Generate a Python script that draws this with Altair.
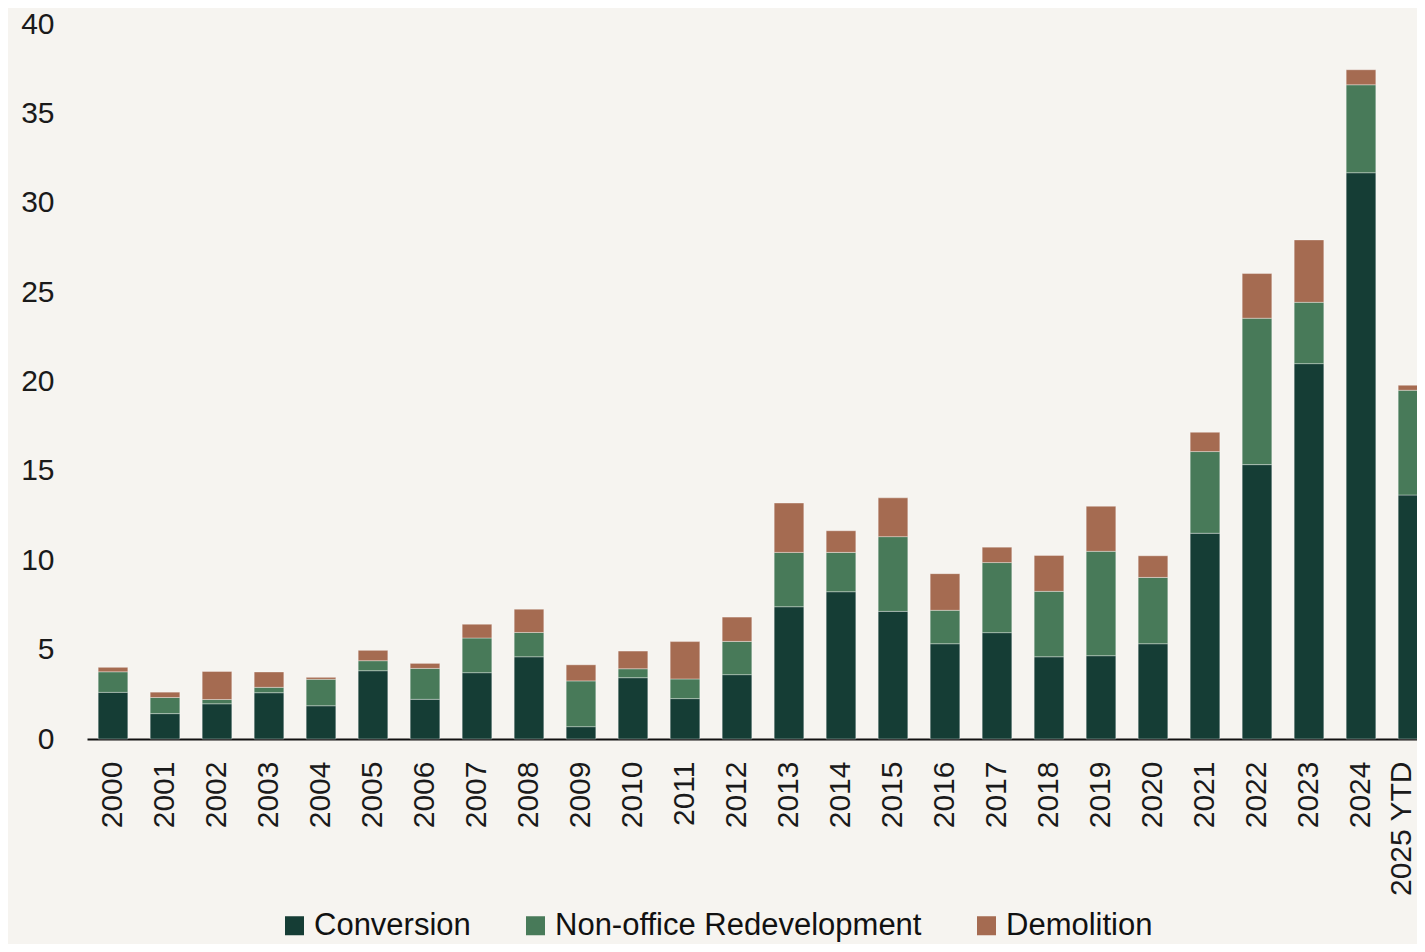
import altair as alt
import pandas as pd

years = ["2000", "2001", "2002", "2003", "2004", "2005", "2006", "2007", "2008", "2009",
         "2010", "2011", "2012", "2013", "2014", "2015", "2016", "2017", "2018", "2019",
         "2020", "2021", "2022", "2023", "2024", "2025 YTD"]
conversion = [2.61, 1.42, 1.97, 2.59, 1.86, 3.82, 2.22, 3.71, 4.60, 0.69,
              3.43, 2.26, 3.60, 7.40, 8.24, 7.14, 5.33, 5.95, 4.60, 4.66,
              5.33, 11.51, 15.35, 21.00, 31.68, 13.65]
non_office = [1.15, 0.90, 0.24, 0.30, 1.48, 0.56, 1.73, 1.94, 1.36, 2.56,
              0.50, 1.10, 1.86, 3.04, 2.20, 4.18, 1.87, 3.92, 3.66, 5.84,
              3.71, 4.57, 8.19, 3.43, 4.92, 5.86]
demolition = [0.25, 0.30, 1.57, 0.86, 0.11, 0.58, 0.28, 0.77, 1.30, 0.90,
              0.99, 2.09, 1.36, 2.76, 1.21, 2.17, 2.05, 0.86, 2.01, 2.52,
              1.21, 1.08, 2.50, 3.49, 0.84, 0.28]
series = ["Conversion", "Non-office Redevelopment", "Demolition"]
colors = ["#153d35", "#487a59", "#a56b51"]

rows = []
for i, y in enumerate(years):
    for k, (name, vals) in enumerate(zip(series, [conversion, non_office, demolition])):
        rows.append({"year": y, "type": name, "value": vals[i], "order": k})
df = pd.DataFrame(rows)

FONT = "Liberation Sans"

chart = alt.Chart(df).mark_bar(
    stroke="#ffffff", strokeWidth=1, strokeOpacity=0.35
).encode(
    x=alt.X("year:N", sort=years, title=None,
            scale=alt.Scale(paddingInner=0.43, paddingOuter=0.215, range=[0, 1352]),
            axis=alt.Axis(labelAngle=-90, labelAlign="right", labelBaseline="middle",
                          labelFontSize=30, labelFont=FONT, labelColor="#1a1a1a",
                          labelPadding=22, ticks=False, tickSize=0,
                          labelOffset={"condition": {"test": "datum.value == '2025 YTD'", "value": -11},
                                       "value": 0},
                          domainColor="#111111", domainWidth=2, labelOverlap=False)),
    y=alt.Y("value:Q", title=None, stack="zero",
            scale=alt.Scale(domain=[0, 40], nice=False),
            axis=alt.Axis(values=[0, 5, 10, 15, 20, 25, 30, 35, 40], grid=False,
                          domain=False, ticks=False, tickSize=0,
                          labelFontSize=30, labelFont=FONT, labelColor="#1a1a1a",
                          labelPadding=33)),
    color=alt.Color("type:N", sort=series,
                    scale=alt.Scale(domain=series, range=colors),
                    legend=alt.Legend(title=None, orient="none", direction="horizontal",
                                      legendX=192, legendY=886, symbolType="square",
                                      symbolSize=361, symbolStrokeWidth=0, symbolOpacity=1,
                                      labelFontSize=31, labelFont=FONT, labelColor="#111111",
                                      labelOffset=4, columnPadding=49, padding=0,
                                      labelLimit=600)),
    order=alt.Order("order:Q", sort="ascending"),
).properties(
    width=1330, height=715,
    autosize=alt.AutoSizeParams(type="none"),
    padding={"left": 79, "top": 16, "right": 0, "bottom": 205},
    background="#f6f4f0",
).configure_view(stroke=None)

chart.save("out.html", embed_options={"renderer": "svg", "actions": False})
